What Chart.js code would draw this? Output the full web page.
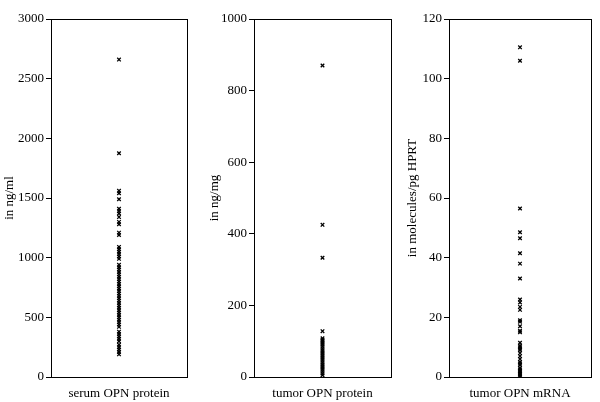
<!DOCTYPE html>
<html>
<head>
<meta charset="utf-8">
<script src="https://cdn.jsdelivr.net/npm/chart.js@4"></script>
<style>
  html, body { margin: 0; padding: 0; background: #fff; }
  #wrap { position: relative; width: 600px; height: 402px; }
  .pn { position: absolute; top: 0; width: 200px; height: 402px; }
</style>
</head>
<body>
<div id="wrap">
  <div class="pn" style="left:0"><canvas id="c-serum"></canvas></div>
  <div class="pn" style="left:200px"><canvas id="c-tumor"></canvas></div>
  <div class="pn" style="left:400px"><canvas id="c-mrna"></canvas></div>
</div>
<script>
// serum OPN protein, ng/ml
const serumValues = [2660, 1875, 1560, 1540, 1490, 1410, 1390, 1370, 1340, 1300, 1280, 1210, 1190,
  1090, 1070, 1050, 1030, 1010, 990, 940, 920, 900, 880, 860, 840, 820, 800, 780, 760, 740, 720,
  700, 680, 660, 640, 620, 600, 580, 560, 540, 520, 500, 480, 460, 440, 420, 380, 360, 340, 320,
  300, 270, 250, 230, 210, 190];
// tumor OPN protein, ng/mg
const tumorValues = [870, 425, 333, 128, 108, 104, 100, 95, 90, 85, 80, 75, 70, 65, 60, 55, 50,
  45, 40, 35, 30, 25, 20, 15, 10, 5];
// tumor OPN mRNA, molecules/pg HPRT
const mrnaValues = [110.5, 106, 56.5, 48.5, 46.5, 41.5, 38, 33, 26, 25, 23.5, 22.5, 19, 18.5, 17,
  15.5, 15, 11.5, 10.5, 10, 9.5, 9, 8, 7, 6, 5, 4.5, 4, 3, 2.5, 2, 1.5, 1, 0.5, 0.2];

const serumTicks = { max: 3000, step: 500 };
const tumorTicks = { max: 1000, step: 200 };
const mrnaTicks = { max: 120, step: 20 };

const FONT = 'Liberation Serif, Times New Roman, serif';

// box around the plot area
const frame = {
  id: 'frame',
  afterDraw(chart) {
    const { ctx, chartArea: a } = chart;
    ctx.save();
    ctx.strokeStyle = '#000';
    ctx.lineWidth = 1;
    ctx.strokeRect(Math.round(a.left) + 0.5, Math.round(a.top) + 0.5,
      Math.round(a.right - a.left), Math.round(a.bottom - a.top));
    ctx.restore();
  }
};

function makePanel(id, values, ticks, xLabel, yLabel, yWidth, padRight, yTitlePad) {
  new Chart(document.getElementById(id), {
    type: 'scatter',
    data: {
      datasets: [{
        data: values.map(v => ({ x: 1, y: v })),
        pointStyle: 'crossRot',
        radius: 2.5,
        borderColor: '#000',
        borderWidth: 1.3,
        backgroundColor: '#000'
      }]
    },
    options: {
      responsive: true,
      maintainAspectRatio: false,
      animation: false,
      layout: { padding: { top: 19, right: padRight, left: 0, bottom: 0 } },
      plugins: { legend: { display: false }, tooltip: { enabled: false } },
      scales: {
        x: {
          type: 'linear', min: 0, max: 2,
          ticks: { display: false },
          grid: { display: false },
          border: { display: false },
          title: { display: true, text: xLabel, color: '#000', font: { family: FONT, size: 13 }, padding: { top: 0, bottom: 1 } },
          afterFit: s => { s.height = 25; }
        },
        y: {
          min: 0, max: ticks.max,
          ticks: { stepSize: ticks.step, color: '#000', font: { family: FONT, size: 13 }, padding: 2,
            callback: v => String(v) },
          grid: { drawOnChartArea: false, color: '#000', tickLength: 5 },
          border: { display: false },
          title: { display: true, text: yLabel, color: '#000', font: { family: FONT, size: 13 }, padding: { top: yTitlePad, bottom: 0 } },
          afterFit: s => { s.width = yWidth; }
        }
      }
    },
    plugins: [frame]
  });
}

makePanel('c-serum', serumValues, serumTicks, 'serum OPN protein', 'in ng/ml', 51, 13, 2);
makePanel('c-tumor', tumorValues, tumorTicks, 'tumor OPN protein', 'in ng/mg', 54, 9, 7);
makePanel('c-mrna', mrnaValues, mrnaTicks, 'tumor OPN mRNA', 'in molecules/pg HPRT', 49, 9, 5);
</script>
</body>
</html>
